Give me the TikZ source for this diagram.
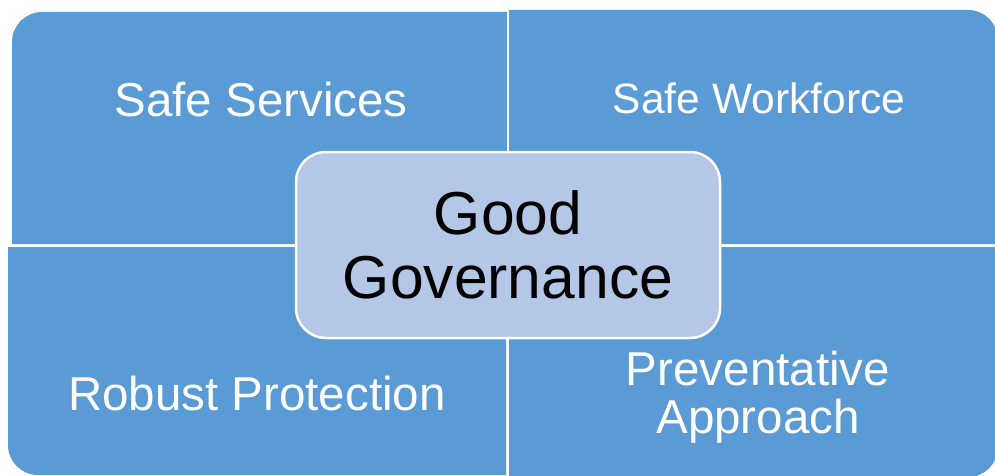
\documentclass[tikz,border=0pt]{standalone}
\usepackage{fontspec}
\setmainfont{Liberation Sans}
\definecolor{quadblue}{HTML}{5B9BD5}
\definecolor{centerblue}{HTML}{B4C7E7}
\begin{document}
\begin{tikzpicture}[x=1pt,y=1pt,
  quad/.style={fill=quadblue},
  quadtext/.style={text=white,inner sep=0pt,anchor=base,font=\fontsize{47.5}{50}\selectfont},
  centerbox/.style={draw=white,line width=2.5pt,fill=centerblue,rounded corners=30pt,
    minimum width=424pt,minimum height=186pt,inner sep=0pt,align=center,
    font=\fontsize{60.6}{64}\selectfont,text=black}]
\useasboundingbox (0,0) rectangle (995,475);
% quadrants
\fill[quad] (12,231) -- (12,433) arc[start angle=180,end angle=90,radius=30] -- (507,463) -- (507,231) -- cycle;
\fill[quad] (509,231) -- (509,465) -- (968,465) arc[start angle=90,end angle=0,radius=30] -- (998,231) -- cycle;
\fill[quad] (8,228) -- (8,30) arc[start angle=180,end angle=270,radius=30] -- (506,0) -- (506,228) -- cycle;
\fill[quad] (509,228) -- (998,228) -- (998,28) arc[start angle=0,end angle=-90,radius=30] -- (509,-2) -- cycle;
% labels
\node[quadtext] (ss) at (261,359) {Safe Services};
\node[quadtext,font=\fontsize{42.5}{45}\selectfont] (sw) at (759,362) {Safe Workforce};
\node[quadtext] (rp) at (257,65) {Robust Protection};
\node[quadtext] (pv) at (758,90) {Preventative};
\node[quadtext] (ap) at (758,42) {Approach};
% centre
\node[centerbox] (gg) at (508,230) {Good\\Governance};
\end{tikzpicture}
\end{document}
